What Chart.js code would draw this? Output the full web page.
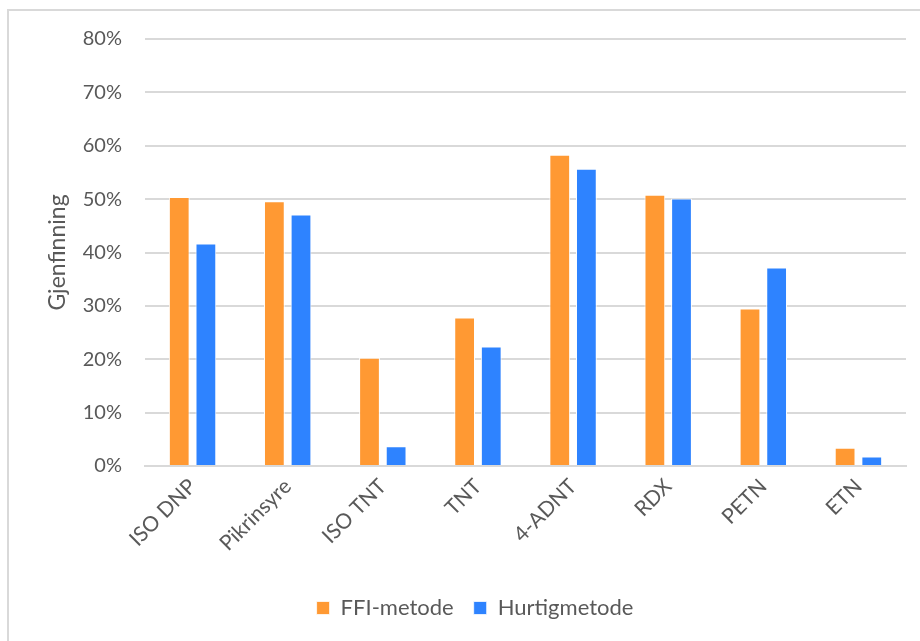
<!DOCTYPE html>
<html><head><meta charset="utf-8">
<script src="https://cdn.jsdelivr.net/npm/chart.js@4"></script>
<style>
html,body{margin:0;padding:0;background:#fff;overflow:hidden;width:920px;height:641px;}
#box{position:absolute;left:7px;top:9px;width:940px;height:660px;border:2px solid #d9d9d9;box-sizing:border-box;}
#wrap{position:absolute;left:0;top:0;width:913px;height:628px;}
</style></head><body>
<div id="box"><div id="wrap"><canvas id="c"></canvas></div></div>
<script>
const categories = ['ISO DNP','Pikrinsyre','ISO TNT','TNT','4-ADNT','RDX','PETN','ETN'];
const ffiValues = [50.4, 49.6, 20.3, 27.8, 58.3, 50.8, 29.5, 3.4];
const hurtigValues = [41.7, 47.1, 3.7, 22.4, 55.7, 50.1, 37.2, 1.8];
const seriesNames = ['FFI-metode','Hurtigmetode'];
const yTicks = [0,10,20,30,40,50,60,70,80];

const FONT = "Lato, 'Open Sans', sans-serif";
const TXT = '#595959';
new Chart(document.getElementById('c'), {
  type: 'bar',
  data: {
    labels: categories,
    datasets: [
      {label: seriesNames[0], data: ffiValues, backgroundColor: '#ff9933', borderColor:'#ffffff', borderWidth:{left:1,right:1,top:1}, barPercentage:0.78, categoryPercentage:0.56},
      {label: seriesNames[1], data: hurtigValues, backgroundColor: '#2e83ff', borderColor:'#ffffff', borderWidth:{left:1,right:1,top:1}, barPercentage:0.78, categoryPercentage:0.56}
    ]
  },
  options: {
    responsive: true, maintainAspectRatio: false, animation: false,
    layout: {padding: {left: 35, right: 16, top: 28, bottom: 10}},
    plugins: {
      legend: {position: 'bottom', labels: {font:{family:FONT,size:22}, color: TXT, boxWidth:13, boxHeight:13, padding:20}},
      tooltip: {enabled:false}
    },
    scales: {
      x: {
        grid: {display:false, drawTicks:false},
        border: {color:'#d9d9d9', width:2},
        ticks: {font:{family:FONT,size:21}, color:TXT, maxRotation:45, minRotation:45, padding:8},
        afterFit: (ax) => { ax.height = 111; }
      },
      y: {
        min: 0, max: 80,
        afterBuildTicks: (ax) => { ax.ticks = yTicks.map(v => ({value:v})); },
        grid: {color:'#d9d9d9', lineWidth:2, drawTicks:false},
        border: {display:false},
        ticks: {font:{family:FONT,size:20}, color:TXT, padding:23, callback: v => v + '%'},
        title: {display:true, text:'Gjenfinning', font:{family:FONT,size:23}, color:TXT, padding:{top:0,bottom:0}},
        afterFit: (ax) => { ax.width = 101; ax.paddingTop = 0; ax.paddingBottom = 0; }
      }
    }
  }
});
</script>
</body></html>
